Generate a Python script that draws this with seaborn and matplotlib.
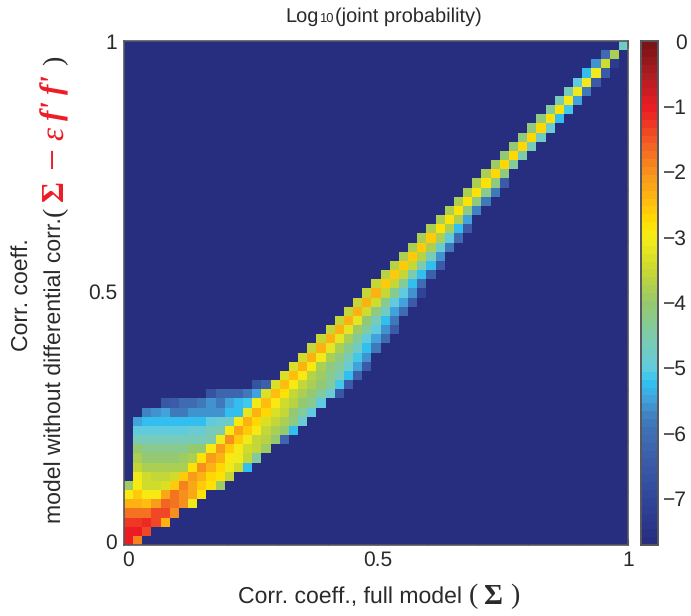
import numpy as np
import matplotlib
matplotlib.use('Agg')
import matplotlib.pyplot as plt
import seaborn as sns
from matplotlib.colors import LinearSegmentedColormap

sns.set_theme(style='white')
plt.rcParams['font.family'] = ['Liberation Sans', 'DejaVu Sans']
plt.rcParams['text.hinting'] = 'none'
plt.rcParams['text.hinting_factor'] = 1

# log10 joint probability.
# One (first column, values) pair per row, starting from the bottom row
row_starts = [0, 0, 0, 0, 0, 0, 0, 1, 1, 1, 1, 1, 1, 1, 2, 4, 9, 14, 17, 18,
              19, 20, 21, 22, 23, 24, 25, 26, 27, 28, 29, 30, 31, 32, 33, 34, 35, 36,
              37, 38, 39, 40, 41, 42, 43, 44, 45, 46, 47, 48, 49, 50, 51, 52, 54]
row_values = [
    [-1.0, -1.9],
    [-1.05, -1.05, -1.4],
    [-1.25, -1.25, -1.1, -1.35, -2.3],
    [-1.7, -1.7, -1.7, -1.4, -1.4, -2.0],
    [-2.3, -2.3, -2.5, -2.1, -1.6, -1.7, -2.05, -3.1],
    [-2.95, -2.55, -3.0, -3.0, -2.2, -1.8, -2.05, -2.2, -2.8],
    [-3.9, -3.0, -3.4, -3.4, -3.3, -2.55, -1.85, -2.2, -2.55, -2.8, -3.9],
    [-3.05, -3.4, -3.55, -3.55, -3.4, -2.65, -2.1, -2.4, -2.7, -2.85, -3.55],
    [-3.55, -3.85, -3.85, -3.85, -3.8, -3.75, -2.85, -2.0, -2.3, -2.75, -3.1, -3.45, -5.2],
    [-3.85, -4.1, -4.1, -4.1, -4.1, -3.95, -3.85, -2.8, -2.15, -2.4, -3.0, -3.1, -3.5, -4.4],
    [-4.1, -4.25, -4.25, -4.25, -4.25, -4.25, -4.1, -4.0, -3.0, -2.15, -2.55, -2.95, -3.45, -3.5, -3.9],
    [-4.7, -4.7, -4.7, -4.7, -4.7, -4.7, -4.65, -4.6, -4.5, -3.05, -2.05, -2.6, -3.05, -3.6, -3.7, -4.05, -6.2],
    [-4.95, -4.95, -4.95, -4.95, -4.95, -4.95, -4.85, -4.85, -4.6, -4.5, -3.0, -2.25, -2.6, -3.0, -3.6, -3.8, -4.05, -5.3],
    [-5.5, -5.2, -5.2, -5.2, -5.2, -5.3, -5.2, -5.3, -5.0, -4.9, -4.8, -3.0, -2.3, -2.7, -3.3, -3.6, -3.8, -4.2, -4.85],
    [-5.75, -5.6, -5.5, -5.8, -5.8, -5.55, -5.55, -5.55, -5.55, -5.25, -5.25, -3.2, -2.4, -2.75, -3.3, -3.6, -4.05, -4.4, -4.95],
    [-6.6, -6.4, -6.1, -6.1, -5.9, -5.6, -5.8, -5.45, -5.2, -5.1, -3.05, -2.45, -2.9, -3.4, -3.7, -4.0, -4.3, -4.95],
    [-6.7, -6.2, -6.2, -6.2, -5.8, -5.5, -3.3, -2.5, -2.85, -3.5, -3.75, -4.1, -4.4, -4.85, -6.6],
    [-6.7, -6.3, -3.3, -2.5, -3.0, -3.55, -3.8, -4.1, -4.4, -5.1, -6.5],
    [-3.3, -2.45, -3.0, -3.7, -3.9, -4.3, -4.6, -5.3, -6.3],
    [-3.3, -2.4, -3.0, -3.75, -4.2, -4.4, -4.85, -5.5, -6.5],
    [-3.45, -2.4, -3.1, -3.75, -4.2, -4.65, -5.1, -5.6],
    [-3.5, -2.4, -3.15, -3.85, -4.3, -4.75, -5.25, -5.85],
    [-3.5, -2.4, -3.15, -3.85, -4.45, -4.95, -5.5, -6.1],
    [-3.5, -2.4, -3.2, -3.95, -4.45, -5.05, -5.6, -6.5],
    [-3.5, -2.4, -3.25, -4.1, -4.7, -5.25, -5.9],
    [-3.5, -2.4, -3.4, -4.2, -4.8, -5.5, -6.1],
    [-3.5, -2.4, -3.45, -4.3, -4.95, -5.5, -6.5],
    [-3.55, -2.4, -3.5, -4.3, -4.95, -5.55, -7.0],
    [-3.6, -2.55, -3.5, -4.45, -5.25, -6.1],
    [-3.7, -2.55, -3.6, -4.5, -5.2, -6.3],
    [-3.7, -2.55, -3.6, -4.5, -5.2, -6.5],
    [-3.75, -2.6, -3.7, -4.7, -5.6],
    [-3.75, -2.65, -3.75, -4.9, -5.9],
    [-3.75, -2.65, -3.85, -4.95, -6.1],
    [-3.85, -2.8, -3.85, -5.2, -6.4],
    [-3.85, -2.8, -3.85, -5.5],
    [-3.85, -2.8, -4.2, -5.7],
    [-3.85, -2.8, -4.2, -5.9],
    [-3.85, -2.8, -4.3, -5.9],
    [-3.85, -2.8, -4.2, -6.4],
    [-3.85, -2.75, -4.2],
    [-3.9, -2.75, -4.4],
    [-4.05, -2.75, -4.5],
    [-4.1, -2.75, -4.6],
    [-4.2, -2.75, -4.8],
    [-4.2, -2.75, -4.85],
    [-4.2, -2.8, -5.25],
    [-4.4, -2.85, -5.15],
    [-4.6, -2.95, -5.5],
    [-4.7, -3.05, -5.9],
    [-4.95, -3.05, -6.4],
    [-5.25, -3.1, -6.5],
    [-5.6, -3.4, -7.3],
    [-6.1, -3.85],
    [-4.75],
]
log_min = -7.72
n_cells = 55

cbar_ticks = [0, -1, -2, -3, -4, -5, -6, -7]
cbar_labels = ['0', '\u22121', '\u22122', '\u22123', '\u22124', '\u22125', '\u22126', '\u22127']
major_ticks = [0, 0.5, 1]
major_labels = ['0', '0.5', '1']
minor_ticks = [0.1, 0.2, 0.3, 0.4, 0.6, 0.7, 0.8, 0.9]

# colormap anchors (log value, colour)
anchor_values = [-7.72, -7, -6.5, -6, -5.78, -5.5, -5.23, -5, -4.5, -4, -3.5, -3, -2.75,
                 -2.5, -2, -1.5, -1, -0.5, 0]
anchor_colors = ['#272e80', '#30489c', '#3b5ba8', '#3f70b4', '#4080c0', '#42a5dd', '#2fc4f2',
                 '#66cbdc', '#7fcba8', '#97c96c', '#c9d92f', '#f6ec18', '#ffde00',
                 '#ffc20e', '#f7941d', '#f15a24', '#ed1c24', '#b01e23', '#7b1416']
cmap = LinearSegmentedColormap.from_list(
    'logprob', [((v - log_min) / -log_min, c) for v, c in zip(anchor_values, anchor_colors)], N=64)

matrix = np.full((n_cells, n_cells), log_min)
for r, (start, vals) in enumerate(zip(row_starts, row_values)):
    matrix[r, start:start + len(vals)] = vals

W, H = 691, 616
fig = plt.figure(figsize=(W / 100, H / 100), dpi=100, facecolor='white')

def px_box(left, top, right, bottom):
    return [left / W, 1 - bottom / H, (right - left) / W, (bottom - top) / H]

ax = fig.add_axes(px_box(124, 41, 628, 545))
cax = fig.add_axes(px_box(641, 41, 658, 545))

sns.heatmap(matrix, ax=ax, cbar_ax=cax, cmap=cmap, vmin=log_min, vmax=0,
            xticklabels=False, yticklabels=False, linewidths=0,
            cbar_kws={'ticks': cbar_ticks})
ax.set_ylim(0, n_cells)

# heatmap works in cell units, axis starts slightly below 0
axis_lo = -0.008
cell_w = (1 - axis_lo) / n_cells
def to_cell(vals):
    return [(v - axis_lo) / cell_w for v in vals]

grey = '#55575c'
text_col = '#2a2a2a'
for axis in (ax.xaxis, ax.yaxis):
    axis.set_ticks(to_cell(major_ticks))
    axis.set_ticks(to_cell(minor_ticks), minor=True)
    axis.set_ticklabels(major_labels)
ax.tick_params(axis='both', which='both', direction='in', length=4, width=0.8, color=grey,
               top=True, right=True, bottom=True, left=True)
ax.tick_params(axis='both', which='major', labelsize=15, labelcolor=text_col, pad=4)
ax.tick_params(axis='y', which='major', pad=5, labelrotation=0)
ax.tick_params(axis='x', which='major', labelrotation=0)
for s in ax.spines.values():
    s.set_visible(True)
    s.set_color(grey)
    s.set_linewidth(1.2)

cax.set_yticks(cbar_ticks)
cax.set_yticklabels(cbar_labels, ha='right')
cax.tick_params(axis='y', which='both', direction='in', length=4, width=0.8, color='#444444',
                left=True, right=True, labelsize=15, labelcolor=text_col, pad=21)
for s in cax.spines.values():
    s.set_visible(True)
    s.set_color(grey)
    s.set_linewidth(1.2)

def put(x, y, s, **kw):
    kw.setdefault('color', text_col)
    kw.setdefault('ha', 'center')
    kw.setdefault('va', 'center')
    fig.text(x / W, 1 - y / H, s, **kw)

# title with the small inline 10
put(285, 17, 'Log', fontsize=14.4, ha='left')
put(319.5, 19, '10', fontsize=9.5, ha='left')
put(335, 17, '(joint probability)', fontsize=14.4, ha='left')

# x label
put(238, 597, 'Corr. coeff., full model', fontsize=16.6, ha='left')
put(473, 596, '(', fontsize=20, family='Liberation Serif')
put(493, 597, '\u03a3', fontsize=21, family='Liberation Serif', weight='bold')
put(515, 596, ')', fontsize=20, family='Liberation Serif')

# y label, two lines plus the red expression
put(22, 295, 'Corr. coeff.', fontsize=16.6, rotation=90)
put(55, 523, 'model without differential corr.', fontsize=16.3, rotation=90, va='bottom')
put(55, 211, '(', fontsize=20, rotation=90, family='Liberation Serif')
red = '#ed1c24'
put(55, 191, '\u03a3', fontsize=23, rotation=90, family='Liberation Serif', weight='bold', color=red)
put(55, 158, '\u2212', fontsize=28, rotation=90, family='Liberation Serif', color=red)
put(55, 134, '\u03b5', fontsize=24, rotation=90, family='Liberation Serif', style='italic', color=red)
put(55, 111, "f'", fontsize=22, rotation=90, family='Liberation Serif', style='italic', weight='bold', color=red)
put(55, 85, "f'", fontsize=22, rotation=90, family='Liberation Serif', style='italic', weight='bold', color=red)
put(55, 60, ')', fontsize=20, rotation=90, family='Liberation Serif')

fig.savefig('out.png', dpi=100)
